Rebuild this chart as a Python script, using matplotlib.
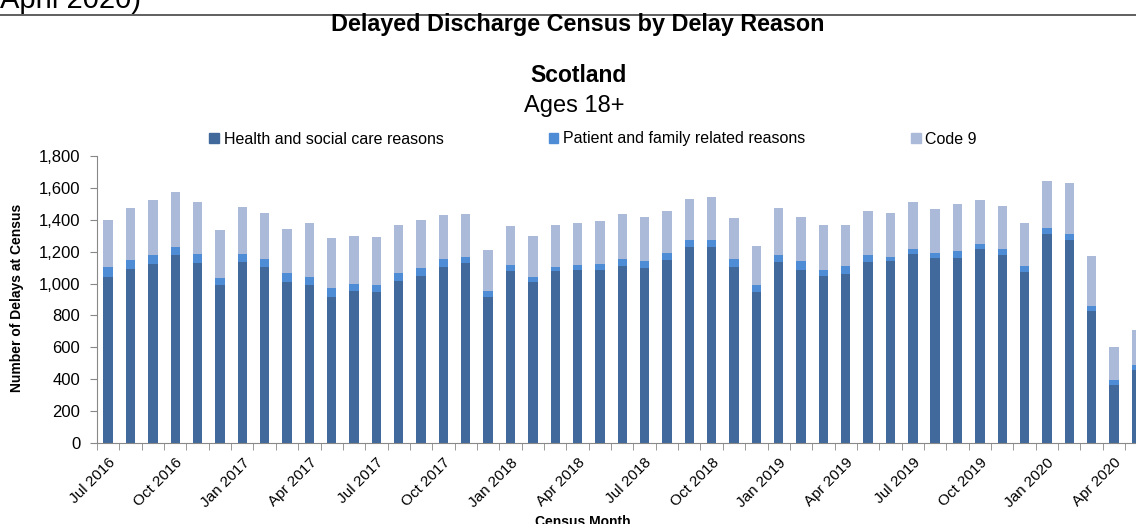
import matplotlib
matplotlib.use('Agg')
import matplotlib.pyplot as plt
from matplotlib.lines import Line2D
from matplotlib.patches import Patch

# census months Jul 2016 - May 2020
months = ['Jul 2016', 'Aug 2016', 'Sep 2016', 'Oct 2016', 'Nov 2016', 'Dec 2016',
          'Jan 2017', 'Feb 2017', 'Mar 2017', 'Apr 2017', 'May 2017', 'Jun 2017',
          'Jul 2017', 'Aug 2017', 'Sep 2017', 'Oct 2017', 'Nov 2017', 'Dec 2017',
          'Jan 2018', 'Feb 2018', 'Mar 2018', 'Apr 2018', 'May 2018', 'Jun 2018',
          'Jul 2018', 'Aug 2018', 'Sep 2018', 'Oct 2018', 'Nov 2018', 'Dec 2018',
          'Jan 2019', 'Feb 2019', 'Mar 2019', 'Apr 2019', 'May 2019', 'Jun 2019',
          'Jul 2019', 'Aug 2019', 'Sep 2019', 'Oct 2019', 'Nov 2019', 'Dec 2019',
          'Jan 2020', 'Feb 2020', 'Mar 2020', 'Apr 2020', 'May 2020']

health_social = [1044, 1090, 1123, 1176, 1132, 992, 1138, 1105, 1011, 988, 915, 956,
                 944, 1017, 1049, 1105, 1130, 915, 1077, 1009, 1077, 1082, 1082, 1107,
                 1100, 1146, 1228, 1228, 1105, 944, 1138, 1088, 1046, 1063, 1138, 1142,
                 1184, 1163, 1163, 1217, 1180, 1071, 1313, 1276, 827, 361, 455]
patient_family = [59, 58, 53, 56, 52, 42, 50, 50, 54, 50, 58, 42,
                  46, 48, 46, 46, 37, 41, 40, 31, 28, 35, 39, 48,
                  42, 44, 48, 48, 46, 44, 40, 54, 42, 48, 40, 25,
                  33, 29, 42, 30, 37, 40, 38, 37, 35, 36, 36]
code_9 = [296, 324, 348, 342, 328, 300, 295, 286, 276, 340, 311, 303,
          303, 303, 304, 277, 270, 253, 242, 257, 263, 265, 270, 282,
          276, 267, 252, 265, 263, 246, 296, 278, 278, 255, 277, 276,
          295, 278, 294, 277, 270, 271, 290, 316, 309, 206, 217]

tick_every = 3

c_health = '#41699C'
c_patient = '#4F8CD6'
c_code9 = '#AABAD8'

plt.rcParams['font.family'] = ['Liberation Sans', 'DejaVu Sans']

fig = plt.figure(figsize=(11.36, 5.24), dpi=100)
W, H = 1136, 524

# axes extends a bit past the right edge (as in the cropped original)
ax = fig.add_axes([97 / W, 1 - 443 / H, 1050.5 / W, 287 / H])

x = list(range(len(months)))
bottom2 = [a + b for a, b in zip(health_social, patient_family)]
bw = 0.42
ax.bar(x, health_social, width=bw, color=c_health, label='Health and social care reasons')
ax.bar(x, patient_family, width=bw, bottom=health_social, color=c_patient,
       label='Patient and family related reasons')
ax.bar(x, code_9, width=bw, bottom=bottom2, color=c_code9, label='Code 9')

ax.set_xlim(-0.5, len(months) - 0.5)
ax.set_ylim(0, 1800)
ax.set_yticks(range(0, 1801, 200))
ax.set_yticklabels([f'{v:,}' for v in range(0, 1801, 200)], fontsize=12)

# labels every 3 months, tick marks between categories
ax.set_xticks(x[::tick_every])
ax.set_xticklabels(months[::tick_every], rotation=45, ha='right',
                   rotation_mode='anchor', fontsize=11)
ax.set_xticks([i - 0.5 for i in range(len(months) + 1)], minor=True)
ax.tick_params(axis='x', which='major', length=0, pad=9)
ax.tick_params(axis='x', which='minor', length=5, color='#888888')
ax.tick_params(axis='y', length=5, color='#888888', pad=7)

for s in ['top', 'right']:
    ax.spines[s].set_visible(False)
for s in ['left', 'bottom']:
    ax.spines[s].set_color('#888888')

# titles
fig.text(0.0, 1 - 8 / H, 'April 2020)', fontsize=21, va='baseline', ha='left')
fig.add_artist(Line2D([0, 1], [1 - 14.5 / H, 1 - 14.5 / H], color='#444444', lw=1.2))
fig.text(578 / W, 1 - 24 / H, 'Delayed Discharge Census by Delay Reason',
         fontsize=16.8, fontweight='bold', ha='center', va='center')
fig.text(578 / W, 1 - 75 / H, 'Scotland', fontsize=16.5, fontweight='bold',
         ha='center', va='center')
fig.text(574 / W, 1 - 106 / H, 'Ages 18+', fontsize=17, ha='center', va='center')

handles = [Patch(color=c_health), Patch(color=c_patient), Patch(color=c_code9)]
labels = ['Health and social care reasons', 'Patient and family related reasons', 'Code 9']
fig.legend(handles, labels, loc='center', bbox_to_anchor=(593 / W, 1 - 139 / H),
           ncol=3, frameon=False, fontsize=11.5, handlelength=0.6, handleheight=0.6,
           handletextpad=0.3, columnspacing=6.6)

fig.text(17 / W, 1 - 298 / H, 'Number of Delays at Census', rotation=90,
         fontsize=10, fontweight='bold', ha='center', va='center')
fig.text(583 / W, 1 - 522 / H, 'Census Month', fontsize=10, fontweight='bold',
         ha='center', va='center')

fig.savefig('out.png', dpi=100)
